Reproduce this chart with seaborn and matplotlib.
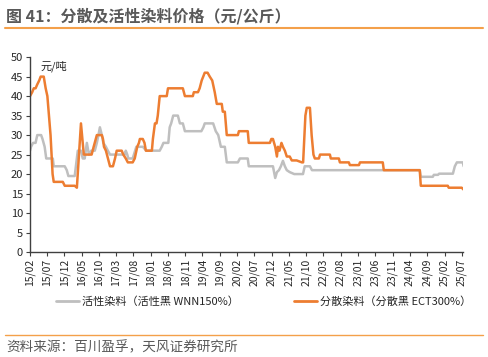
import matplotlib
matplotlib.use('Agg')
import matplotlib.pyplot as plt
import matplotlib.dates as mdates
import seaborn as sns
import pandas as pd

# 活性染料（活性黑 WNN150%）
active_dates = ['2015-02-01', '2015-02-10', '2015-02-28', '2015-03-22', '2015-04-06', '2015-05-10',
                '2015-05-22', '2015-06-10', '2015-06-24', '2015-08-21', '2015-08-29', '2015-12-04',
                '2015-12-22', '2016-01-05', '2016-03-01', '2016-03-28', '2016-04-25', '2016-05-11',
                '2016-05-28', '2016-06-16', '2016-07-04', '2016-07-25', '2016-08-25', '2016-09-12',
                '2016-09-26', '2016-10-09', '2016-10-26', '2016-11-08', '2016-12-01', '2016-12-18',
                '2017-01-06', '2017-05-16', '2017-05-25', '2017-06-07', '2017-06-16', '2017-07-25',
                '2017-08-26', '2017-10-22', '2017-11-22', '2018-03-20', '2018-04-07', '2018-04-22',
                '2018-06-04', '2018-06-16', '2018-06-29', '2018-07-17', '2018-08-27', '2018-09-14',
                '2018-10-10', '2018-10-28', '2019-03-22', '2019-04-09', '2019-04-21', '2019-07-04',
                '2019-07-27', '2019-08-18', '2019-09-10', '2019-10-15', '2019-11-01', '2020-02-07',
                '2020-02-25', '2020-05-04', '2020-05-13', '2020-12-12', '2021-01-01', '2021-01-16',
                '2021-02-03', '2021-02-20', '2021-03-10', '2021-03-27', '2021-04-13', '2021-05-09',
                '2021-06-18', '2021-09-03', '2021-09-18', '2021-11-03', '2021-11-21', '2024-06-28',
                '2024-07-07', '2024-10-21', '2024-10-30', '2024-12-06', '2024-12-15', '2025-04-16',
                '2025-05-03', '2025-05-21', '2025-07-12', '2025-07-20']
active_values = [26, 27, 28, 28, 30, 30,
                 29, 27, 24, 24, 22, 22,
                 21, 19.5, 19.5, 26, 26, 24,
                 24, 28, 25, 26, 26, 28,
                 30, 32, 30, 28, 27, 26,
                 25, 25, 26, 25, 24, 24,
                 27, 27, 26, 26, 27, 28,
                 28, 32, 33, 35, 35, 33,
                 33, 31, 31, 32, 33, 33,
                 31, 30, 27, 27, 23, 23,
                 24, 24, 22, 22, 19, 20.5,
                 21, 22, 23.4, 22, 21, 20.5,
                 20, 20, 22, 22, 21, 21,
                 19.3, 19.3, 19.8, 19.8, 20.1, 20.1,
                 22, 23, 23, 22]

# 分散染料（分散黑 ECT300%）
disperse_dates = ['2015-02-01', '2015-02-20', '2015-03-06', '2015-03-22', '2015-04-06', '2015-04-23',
                  '2015-05-06', '2015-06-02', '2015-06-19', '2015-07-04', '2015-07-18', '2015-08-01',
                  '2015-08-19', '2015-08-29', '2015-11-17', '2015-12-04', '2016-03-01', '2016-03-20',
                  '2016-04-25', '2016-05-20', '2016-07-28', '2016-08-15', '2016-09-12', '2016-10-26',
                  '2016-11-05', '2016-11-14', '2016-12-01', '2017-01-06', '2017-02-01', '2017-02-19',
                  '2017-03-06', '2017-04-19', '2017-05-03', '2017-05-25', '2017-06-12', '2017-07-25',
                  '2017-08-12', '2017-09-03', '2017-09-18', '2017-09-26', '2017-10-22', '2017-11-06',
                  '2017-11-18', '2018-01-10', '2018-01-19', '2018-02-06', '2018-02-20', '2018-03-03',
                  '2018-03-20', '2018-05-21', '2018-06-01', '2018-10-10', '2018-10-28', '2019-01-06',
                  '2019-01-15', '2019-02-20', '2019-03-07', '2019-03-25', '2019-04-21', '2019-05-16',
                  '2019-06-04', '2019-06-26', '2019-07-18', '2019-08-05', '2019-09-18', '2019-09-27',
                  '2019-10-15', '2019-11-01', '2020-02-07', '2020-02-16', '2020-05-04', '2020-05-13',
                  '2020-11-15', '2020-11-28', '2020-12-12', '2021-01-01', '2021-01-16', '2021-01-25',
                  '2021-02-08', '2021-02-25', '2021-03-10', '2021-03-27', '2021-04-13', '2021-05-09',
                  '2021-05-27', '2021-07-09', '2021-08-24', '2021-09-04', '2021-09-24', '2021-10-06',
                  '2021-11-03', '2021-11-18', '2021-12-04', '2021-12-16', '2022-01-21', '2022-01-31',
                  '2022-04-28', '2022-05-06', '2022-07-16', '2022-07-25', '2022-10-12', '2022-10-21',
                  '2023-01-09', '2023-01-18', '2023-08-07', '2023-08-16', '2024-06-28', '2024-07-07',
                  '2025-03-02', '2025-03-10', '2025-07-03', '2025-07-20']
disperse_values = [40, 41, 42, 42, 43, 44,
                   45, 45, 42, 40, 35, 30,
                   20, 18, 18, 17, 17, 16.5,
                   33, 25, 25, 27, 30, 30,
                   29, 27, 26, 22, 22, 24,
                   26, 26, 25, 24, 23, 23,
                   24, 27, 28, 29, 29, 28,
                   26, 26, 29, 33, 33, 35,
                   40, 40, 42, 42, 40, 40,
                   41, 41, 42, 44, 46, 46,
                   45, 44, 41, 38, 38, 36,
                   36, 30, 30, 31, 31, 28,
                   28, 29, 29, 27, 24.5, 27,
                   26, 28, 27, 26, 24.5, 24.5,
                   23.5, 23.5, 23, 23, 35, 37,
                   37, 30, 25, 24, 24, 25,
                   25, 24, 24, 23, 23, 22.3,
                   22.3, 23, 23, 21, 21, 17,
                   17, 16.5, 16.5, 16]

series_names = ['活性染料（活性黑 WNN150%）', '分散染料（分散黑 ECT300%）']
series_colors = ['#BFBFBF', '#ED7D31']

df = pd.concat([
    pd.DataFrame({'date': pd.to_datetime(active_dates), 'price': active_values, 'series': series_names[0]}),
    pd.DataFrame({'date': pd.to_datetime(disperse_dates), 'price': disperse_values, 'series': series_names[1]}),
])

sns.set_style('white')
plt.rcParams['font.family'] = ['Noto Sans CJK SC', 'DejaVu Sans']

fig = plt.figure(figsize=(4.88, 3.57), dpi=100)
ax = fig.add_axes([0.0615, 0.294, 0.8875, 0.546])

sns.lineplot(data=df, x='date', y='price', hue='series', hue_order=series_names,
             palette=dict(zip(series_names, series_colors)), estimator=None, sort=True,
             linewidth=1.8, ax=ax)

ax.set_ylim(0, 50)
ax.set_yticks(range(0, 51, 5))
tick_dates = pd.date_range('2015-02-01', '2025-07-01', freq='5MS')
ax.set_xticks(tick_dates)
ax.xaxis.set_major_formatter(mdates.DateFormatter('%y/%m'))
ax.set_xlim(pd.Timestamp('2015-02-01'), pd.Timestamp('2025-07-15'))
ax.tick_params(axis='x', labelrotation=90, labelsize=7.5, length=3, color='#404040', direction='out', bottom=True, pad=2)
ax.tick_params(axis='y', labelsize=8, length=3, color='#404040', direction='out', left=True, pad=2)
for lab in ax.get_xticklabels() + ax.get_yticklabels():
    lab.set_color('#262626')
ax.set_xlabel('')
ax.set_ylabel('')
sns.despine(ax=ax)
ax.spines['left'].set_color('#404040')
ax.spines['bottom'].set_color('#404040')
ax.spines['left'].set_linewidth(1)
ax.spines['bottom'].set_linewidth(1)

ax.text(0.025, 0.985, '元/吨', transform=ax.transAxes, fontsize=8, color='#262626', va='top', ha='left')

ax.legend(loc='upper center', bbox_to_anchor=(0.54, -0.175), ncol=2, frameon=False,
          fontsize=8, handlelength=2.0, columnspacing=5, handletextpad=0.3)
for lh in ax.get_legend().get_lines():
    lh.set_linewidth(2)

fig.text(0.012, 0.955, '图 41：分散及活性染料价格（元/公斤）', fontsize=11.5, fontweight='bold',
         color='#595959', ha='left', va='center')
fig.add_artist(plt.Line2D([0.01, 0.99], [0.922, 0.922], color='#F4A04A', linewidth=1.5, transform=fig.transFigure))
fig.add_artist(plt.Line2D([0.01, 0.99], [0.062, 0.062], color='#F4A04A', linewidth=1, transform=fig.transFigure))
fig.text(0.012, 0.028, '资料来源：百川盈孚，天风证券研究所', fontsize=9.8, color='#595959', ha='left', va='center')

fig.savefig('out.png', dpi=100)
